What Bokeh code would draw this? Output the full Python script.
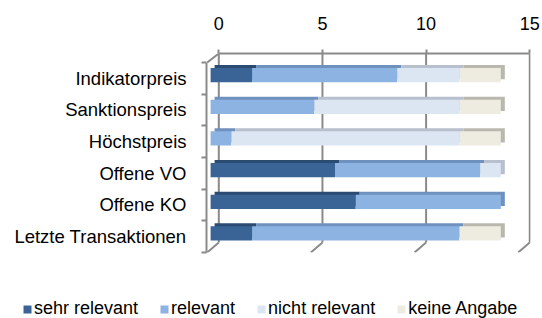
from bokeh.plotting import figure
from bokeh.models import (Range1d, LinearAxis, FixedTicker, Legend, LegendItem)
from bokeh.layouts import column
from bokeh.embed import file_html
from bokeh.resources import INLINE
import numpy as np

# ---- data ----
categories = ["Indikatorpreis", "Sanktionspreis", "Höchstpreis",
              "Offene VO", "Offene KO", "Letzte Transaktionen"]
series_names = ["sehr relevant", "relevant", "nicht relevant", "keine Angabe"]
sehr_relevant = [2, 0, 0, 6, 7, 2]
relevant = [7, 5, 1, 7, 7, 10]
nicht_relevant = [3, 7, 11, 1, 0, 0]
keine_angabe = [2, 2, 2, 0, 0, 2]
x_ticks = [0, 5, 10, 15]

# ---- styles ----
front_colors = ["#3A6496", "#8DB3E2", "#DCE6F2", "#EEECE1"]
top_colors = ["#2B4B72", "#6F91BD", "#B7C0CC", "#B9B7AE"]
axis_grey = "#8A8A8A"
FONT = "Liberation Sans"

W, H = 542, 280
LEG_H = 38
FL, FR, FT, FB = 206, 530, 53, 252          # frame edges in canvas px
X0PX, PXU = 218.3, 20.73                      # canvas x of value 0 (back wall), px per unit
YC0, PYU = 77.8, 31.67                        # canvas y of first category (front), px per category

def rng_x(dx):
    return Range1d((FL - X0PX) / PXU - dx / PXU, (FR - X0PX) / PXU - dx / PXU)

def rng_y(dy):
    return Range1d((FB - YC0) / PYU - dy / PYU, (FT - YC0) / PYU - dy / PYU)

p = figure(width=W, height=H, output_backend="svg", toolbar_location=None,
           x_axis_location=None, y_axis_location=None,
           x_range=rng_x(0), y_range=rng_y(0),
           min_border_left=FL, min_border_right=W - FR,
           min_border_top=FT, min_border_bottom=H - FB)
p.frame_align = False
p.outline_line_color = None
p.xgrid.visible = False
p.ygrid.visible = False

p.extra_x_ranges = {"bar": rng_x(-8.2), "top": rng_x(-4.2)}
p.extra_y_ranges = {"bar": rng_y(-3.2), "top": rng_y(-6.2)}

y_idx = list(range(len(categories)))
y_top_main = p.y_range.end
y_back_bottom = (242 - YC0) / PYU
y_front_bottom = len(categories) - 0.5
depth_x = 11.6 / PXU

# back wall gridlines
p.segment(x0=x_ticks, x1=x_ticks, y0=[y_top_main] * len(x_ticks),
          y1=[y_back_bottom] * len(x_ticks), line_color=axis_grey, line_width=2)
# floor diagonals
p.segment(x0=x_ticks, x1=[t - depth_x for t in x_ticks],
          y0=[y_back_bottom] * len(x_ticks), y1=[y_front_bottom] * len(x_ticks),
          line_color=axis_grey, line_width=2)
# left wall top edge
p.segment(x0=[0], x1=[-depth_x], y0=[y_top_main], y1=[-0.5],
          line_color=axis_grey, line_width=2)

series = [sehr_relevant, relevant, nicht_relevant, keine_angabe]
data = np.array(series, dtype=float)
rights = np.cumsum(data, axis=0)
lefts = rights - data

BAR_H = 0.45
# top/side faces (offset copies)
for k in range(len(series)):
    p.hbar(y=y_idx, left=list(lefts[k]), right=list(rights[k]), height=BAR_H,
           fill_color=top_colors[k], line_color=None,
           x_range_name="top", y_range_name="top")
for k in range(len(series)):
    p.hbar(y=y_idx, left=list(lefts[k]), right=list(rights[k]), height=BAR_H,
           fill_color=front_colors[k], line_color=None,
           x_range_name="bar", y_range_name="bar")

# top axis
xa = LinearAxis(ticker=FixedTicker(ticks=x_ticks), bounds=(0, 15))
xa.axis_line_color = axis_grey
xa.axis_line_width = 2
xa.major_tick_line_color = axis_grey
xa.major_tick_line_width = 2
xa.major_tick_out = 4
xa.major_tick_in = 0
xa.minor_tick_line_color = None
xa.major_label_standoff = 20
xa.major_label_text_font = FONT
xa.major_label_text_font_size = "18px"
xa.major_label_text_color = "#000000"
p.add_layout(xa, "above")

# left axis (front wall)
ya = LinearAxis(ticker=FixedTicker(ticks=y_idx,
                                   minor_ticks=[i - 0.5 for i in range(len(categories) + 1)]),
                bounds=(-0.5, len(categories) - 0.5))
ya.major_label_overrides = {i: c for i, c in enumerate(categories)}
ya.axis_line_color = axis_grey
ya.axis_line_width = 2
ya.major_tick_line_color = None
ya.major_tick_out = 0
ya.major_tick_in = 0
ya.minor_tick_line_color = axis_grey
ya.minor_tick_line_width = 2
ya.minor_tick_out = 5
ya.minor_tick_in = 0
ya.major_label_standoff = 15
ya.major_label_text_font = FONT
ya.major_label_text_font_size = "18.5px"
ya.major_label_text_color = "#000000"
p.add_layout(ya, "left")

# legend strip (its own small figure; the series renderers there are hidden)
lf = figure(width=W, height=LEG_H, output_backend="svg", toolbar_location=None,
            x_axis_location=None, y_axis_location=None,
            x_range=Range1d(0, 1), y_range=Range1d(0, 1),
            min_border_left=0, min_border_right=0, min_border_top=0, min_border_bottom=0)
lf.frame_align = False
lf.outline_line_color = None
lf.xgrid.visible = False
lf.ygrid.visible = False
leg_renderers = []
for k in range(len(series)):
    r = lf.hbar(y=y_idx, left=list(lefts[k]), right=list(rights[k]), height=BAR_H,
                fill_color=front_colors[k], line_color=None)
    r.visible = False
    leg_renderers.append(r)
legend = Legend(items=[LegendItem(label=n, renderers=[r])
                       for n, r in zip(series_names, leg_renderers)],
                orientation="horizontal", location=(22, -1),
                glyph_width=10, glyph_height=10, label_standoff=2, spacing=21,
                padding=0, margin=0, border_line_color=None,
                background_fill_alpha=0, label_height=10,
                inactive_fill_alpha=0, click_policy="none",
                label_text_font=FONT, label_text_font_size="18px",
                label_text_color="#000000")
lf.add_layout(legend, "center")

open("out.html", "w").write(file_html(column(p, lf, spacing=0), INLINE))
